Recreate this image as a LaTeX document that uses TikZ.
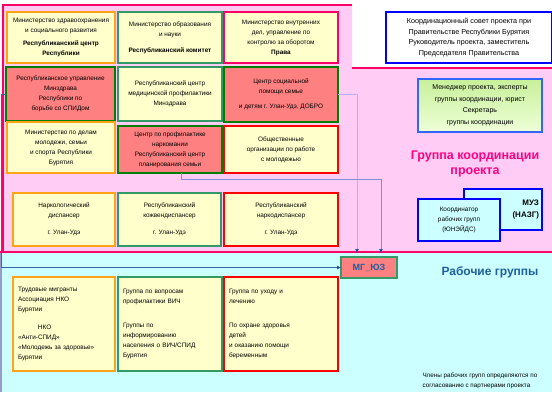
\documentclass[tikz,border=0pt]{standalone}
\usepackage{fontspec}
\setmainfont{Liberation Sans}
\usetikzlibrary{arrows.meta}
\definecolor{pinkbg}{HTML}{FFCCF6}
\definecolor{pinkline}{HTML}{FF0066}
\definecolor{cyanbg}{HTML}{CCFFFF}
\definecolor{boxyel}{HTML}{FFFFCC}
\definecolor{boxred}{HTML}{FF8080}
\definecolor{borange}{HTML}{FFA319}
\definecolor{bteal}{HTML}{339966}
\definecolor{bred}{HTML}{FF0000}
\definecolor{bgreen}{HTML}{008000}
\definecolor{bblue}{HTML}{0000FF}
\definecolor{lblue}{HTML}{3366FF}
\definecolor{linecol}{HTML}{7F8FCF}
\definecolor{linelav}{HTML}{B8B0F0}
\definecolor{leftline}{HTML}{3366AA}
\definecolor{arrowcol}{HTML}{1F50A0}
\definecolor{titlemag}{HTML}{FF0080}
\definecolor{titleblue}{HTML}{1F5FA0}
\definecolor{cyanedge}{HTML}{9999CC}
\definecolor{greentop}{HTML}{C8F09A}
\definecolor{greenbot}{HTML}{EEFFD8}
\begin{document}
\begin{tikzpicture}[x=1pt,y=-1pt,
  txt/.style={font=\fontsize{6.4}{10}\selectfont},
  box/.style={draw, line width=1.6pt, anchor=north west, align=center,
              inner sep=1pt, outer sep=0pt, txt},
  yo/.style={box, fill=boxyel, draw=borange},
  yt/.style={box, fill=boxyel, draw=bteal},
  yr/.style={box, fill=boxyel, draw=bred},
  rg/.style={box, fill=boxred, draw=bgreen},
  lbox/.style={align=left, inner xsep=5pt},
  conn/.style={line width=0.8pt, -{Latex[length=4pt,width=4pt,color=arrowcol]}},
  cbox/.style={box, fill=cyanbg, draw=bblue, line width=1.8pt}
]
\useasboundingbox (0,0) rectangle (552,392);
% regions
\fill[white] (0,0) rectangle (552,392);
\fill[pinkbg] (3,5) -- (352,5) -- (352,68) -- (552,68) -- (552,252) -- (3,252) -- cycle;
\fill[cyanbg] (0,252) rectangle (552,392);
\draw[cyanedge, line width=1.5pt] (1,252) -- (1,392);
\draw[pinkline, line width=1.6pt] (3,252) -- (3,5) -- (352,5);
\draw[pinkline, line width=1.4pt] (352,68) -- (552,68);
\draw[pinkline, line width=1.4pt] (0,252) -- (552,252);

% row 1
\node[yo, minimum width=108pt, minimum height=51pt] (r1c1) at (7,12)
  {Министерство здравоохранения\\и социального развития\\[3pt]\textbf{Республиканский центр}\\\textbf{Республики}};
\node[yt, minimum width=104pt, minimum height=51pt] (r1c2) at (118,12)
  {Министерство образования\\и науки\\[6pt]\textbf{Республиканский комитет}};
\node[box, fill=boxyel, draw=pinkline, minimum width=114pt, minimum height=51pt] (r1c3) at (224,12)
  {Министерство внутренних\\дел, управление по\\контролю за оборотом\\\textbf{Права}};

% row 2
\node[rg, minimum width=109pt, minimum height=54pt] (r2c1) at (6,67)
  {Республиканское управление\\Минздрава\\Республики по\\борьбе со СПИДом};
\node[yt, minimum width=104pt, minimum height=54pt] (r2c2) at (118,67)
  {Республиканский центр\\медицинской профилактики\\Минздрава};
\node[rg, minimum width=114pt, minimum height=55pt] (r2c3) at (224,67)
  {Центр социальной\\помощи семье\\[5pt]и детям г. Улан-Удэ, ДОБРО};

% row 3
\node[yo, minimum width=108pt, minimum height=51pt] (r3c1) at (7,122)
  {Министерство по делам\\молодежи, семьи\\и спорта Республики\\Бурятия};
\node[rg, minimum width=104pt, minimum height=47pt] (r3c2) at (118,126)
  {Центр по профилактике\\наркомании\\Республиканский центр\\планирования семьи};
\node[yr, minimum width=114pt, minimum height=47pt] (r3c3) at (224,126)
  {Общественные\\организации по работе\\с молодежью};

% row 4
\node[yo, minimum width=102pt, minimum height=53pt] (r4c1) at (13,193)
  {Наркологический\\диспансер\\[7pt]г. Улан-Удэ};
\node[yt, minimum width=103pt, minimum height=53pt] (r4c2) at (118,193)
  {Республиканский\\кожвендиспансер\\[7pt]г. Улан-Удэ};
\node[yr, minimum width=114pt, minimum height=53pt] (r4c3) at (224,193)
  {Республиканский\\наркодиспансер\\[7pt]г. Улан-Удэ};

% row 5
\node[yo, lbox, text width=92pt, minimum height=94pt] (r5c1) at (13,277)
  {Трудовые мигранты\\Ассоциация НКО\\Бурятии\\[8pt]\hspace*{20pt}НКО\\«Анти-СПИД»\\«Молодежь за здоровье»\\Бурятии};
\node[yt, lbox, text width=94pt, minimum height=94pt] (r5c2) at (118,277)
  {Группа по вопросам\\профилактики ВИЧ\\[14pt]Группы по\\информированию\\населения о ВИЧ/СПИД\\Бурятия};
\node[yr, lbox, text width=104pt, minimum height=94pt] (r5c3) at (224,277)
  {Группа по уходу и\\лечению\\[14pt]По охране здоровья\\детей\\и оказанию помощи\\беременным};

% right side
\node[box, fill=white, draw=bblue, line width=1.8pt, minimum width=166pt, minimum height=51pt,
      font=\fontsize{7.2}{10.5}\selectfont] (coord) at (386,12)
  {Координационный совет проекта при\\Правительстве Республики Бурятия\\Руководитель проекта, заместитель\\Председателя Правительства};
\node[box, top color=greentop, bottom color=greenbot, draw=lblue, line width=1.5pt, minimum width=124pt, minimum height=53pt,
      font=\fontsize{7}{11.5}\selectfont] (mgr) at (418,79)
  {Менеджер проекта, эксперты\\группы координации, юрист\\Секретарь\\группы координации};
\node[font=\bfseries\fontsize{12.5}{15.5}\selectfont, text=titlemag, align=center] (title) at (475,164)
  {Группа координации\\проекта};
\node[cbox, text width=72pt, minimum height=41pt, align=right, inner xsep=3pt,
      font=\bfseries\fontsize{8}{12}\selectfont] (muz) at (464,189)
  {МУЗ\\(НАЗГ)};
\node[cbox, minimum width=82pt, minimum height=42pt] (coordwg) at (418,199)
  {Координатор\\рабочих групп\\(ЮНЭЙДС)};
\node[box, fill=boxred, draw=bteal, minimum width=56pt, minimum height=21pt,
      font=\bfseries\fontsize{9}{10}\selectfont, text=titleblue] (mg) at (341,257) {МГ\_ЮЗ};
\node[font=\bfseries\fontsize{12}{15}\selectfont, text=titleblue] (wg) at (490,272) {Рабочие группы};
\node[align=left, anchor=north west, font=\fontsize{6.3}{10.5}\selectfont] (note) at (419,369)
  {Члены рабочих групп определяются по\\согласованию с партнерами проекта};

% connectors
\draw[conn, linelav, shorten >=4pt] (r2c3.east) -| ([xshift=-12pt]mg.north);
\draw[conn, linecol, shorten >=4pt] ([xshift=11pt]r3c2.south) -- ++(0,6) -| ([xshift=12pt]mg.north);
\coordinate (lc) at (1.5,267.5);
\draw[conn, leftline] (r2c1.west) -| (lc) -- (mg.west);
\end{tikzpicture}
\end{document}
